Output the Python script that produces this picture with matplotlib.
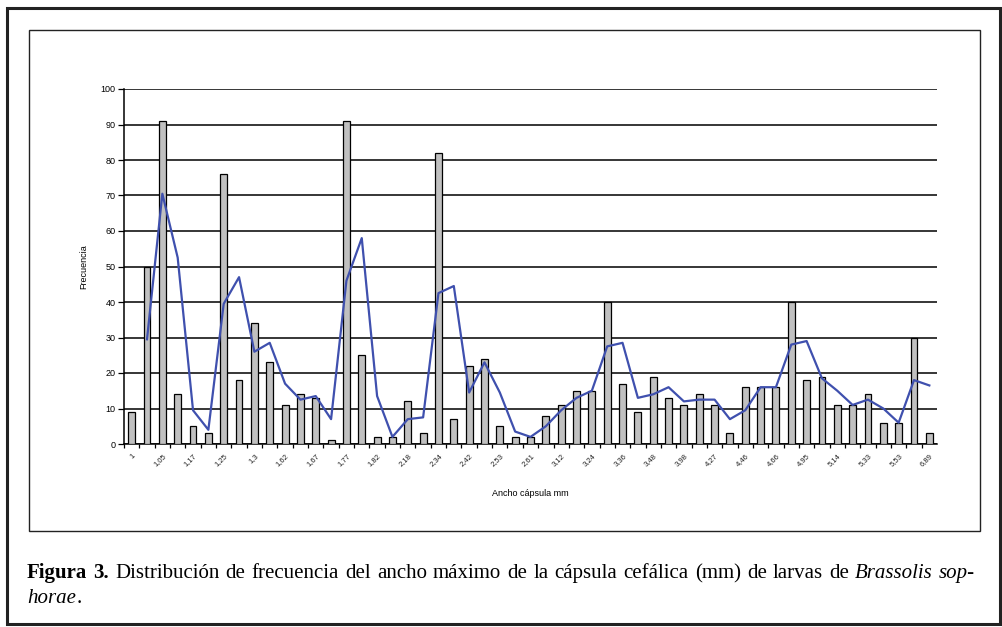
import matplotlib.pyplot as plt
from matplotlib.patches import Rectangle

# tick labels shown on every other category
widths = ["1", "", "1,05", "", "1,17", "", "1,25", "", "1,3", "", "1,62", "",
          "1,67", "", "1,77", "", "1,82", "", "2,18", "", "2,34", "", "2,42", "",
          "2,53", "", "2,61", "", "3,12", "", "3,24", "", "3,36", "", "3,48", "",
          "3,98", "", "4,27", "", "4,46", "", "4,66", "", "4,95", "", "5,14", "",
          "5,33", "", "5,53", "", "6,89"]
freq = [9, 50, 91, 14, 5, 3, 76, 18, 34, 23, 11, 14, 13, 1, 91, 25, 2, 2, 12, 3,
        82, 7, 22, 24, 5, 2, 2, 8, 11, 15, 15, 40, 17, 9, 19, 13, 11, 14, 11, 3,
        16, 16, 16, 40, 18, 19, 11, 11, 14, 6, 6, 30, 3]
# 2-period moving average line (starts at the second category)
trend = [29.5, 70.5, 52.5, 9.5, 4, 39.5, 47, 26, 28.5, 17, 12.5, 13.5, 7, 46,
         58, 13.5, 2, 7, 7.5, 42.5, 44.5, 14.5, 23, 14.5, 3.5, 2, 5, 9.5, 13,
         15, 27.5, 28.5, 13, 14, 16, 12, 12.5, 12.5, 7, 9.5, 16, 16, 28, 29,
         18.5, 15, 11, 12.5, 10, 6, 18, 16.5]

W, H = 1003, 627
fig = plt.figure(figsize=(W / 100, H / 100), dpi=100)

# outer frame and inner chart frame
fig.patches.append(Rectangle((7 / W, 1 - 624 / H), 993 / W, 616 / H,
                             transform=fig.transFigure, fill=False,
                             edgecolor="#222222", linewidth=2.2))
fig.patches.append(Rectangle((29 / W, 1 - 531 / H), 951 / W, 501 / H,
                             transform=fig.transFigure, fill=False,
                             edgecolor="#222222", linewidth=1.0))

ax = fig.add_axes([124 / W, 1 - 444 / H, 813 / W, 355 / H])
x = list(range(len(freq)))
ax.bar(x, freq, width=0.45, color="#c0c0c0", edgecolor="black", linewidth=0.9,
       zorder=3)
ax.plot(x[1:], trend, color="#3f50ae", linewidth=1.6, zorder=4)

ax.set_xlim(-0.5, len(freq) - 0.5)
ax.set_ylim(0, 100)
ax.set_yticks(range(0, 101, 10))
ax.yaxis.grid(True, color="black", linewidth=1.1)
ax.set_axisbelow(True)
for s in ["top", "right"]:
    ax.spines[s].set_visible(False)
ax.spines["left"].set_linewidth(1.1)
ax.spines["bottom"].set_linewidth(1.1)

ax.set_xticks(x)
ax.set_xticklabels(widths, rotation=45, ha="right", rotation_mode="anchor",
                   fontsize=5.5, family="Liberation Sans", color="#222222")
ax.set_xticks([i + 0.5 for i in x[:-1]] + [-0.5], minor=True)
ax.tick_params(axis="x", which="major", length=0, pad=6)
ax.tick_params(axis="x", which="minor", length=3, width=0.9, direction="out")
ax.tick_params(axis="y", length=4, width=0.9, labelsize=6.5, pad=2)
for lab in ax.get_yticklabels():
    lab.set_family("Liberation Sans")

ax.set_ylabel("Frecuencia", fontsize=6.5, family="Liberation Sans", labelpad=9)
ax.set_xlabel("Ancho cápsula mm", fontsize=6.5, family="Liberation Sans",
              labelpad=15)

# caption, justified over the first line
fs = 15
line1 = [("Figura", "bold"), ("3.", "bold")] + \
    [(w, "normal") for w in "Distribución de frecuencia del ancho máximo de la "
     "cápsula cefálica (mm) de larvas de".split()] + \
    [("Brassolis", "italic"), ("sop-", "italic")]
renderer = fig.canvas.get_renderer()
texts = []
for word, kind in line1:
    kw = dict(fontsize=fs, family="Liberation Serif", va="baseline")
    if kind == "bold":
        kw["weight"] = "bold"
    elif kind == "italic":
        kw["style"] = "italic"
    texts.append(fig.text(0, 1 - 578 / H, word, **kw))
ws = [t.get_window_extent(renderer).width for t in texts]
gap = (975 - 27 - sum(ws)) / (len(ws) - 1)
xpos = 27
for t, w in zip(texts, ws):
    t.set_x(xpos / W)
    xpos += w + gap

t2 = fig.text(27 / W, 1 - 603 / H, "horae", fontsize=fs, style="italic",
              family="Liberation Serif", va="baseline")
w2 = t2.get_window_extent(renderer).width
fig.text((27 + w2 + 0.5) / W, 1 - 603 / H, ".", fontsize=fs,
         family="Liberation Serif", va="baseline")

fig.savefig("out.png", dpi=100)
